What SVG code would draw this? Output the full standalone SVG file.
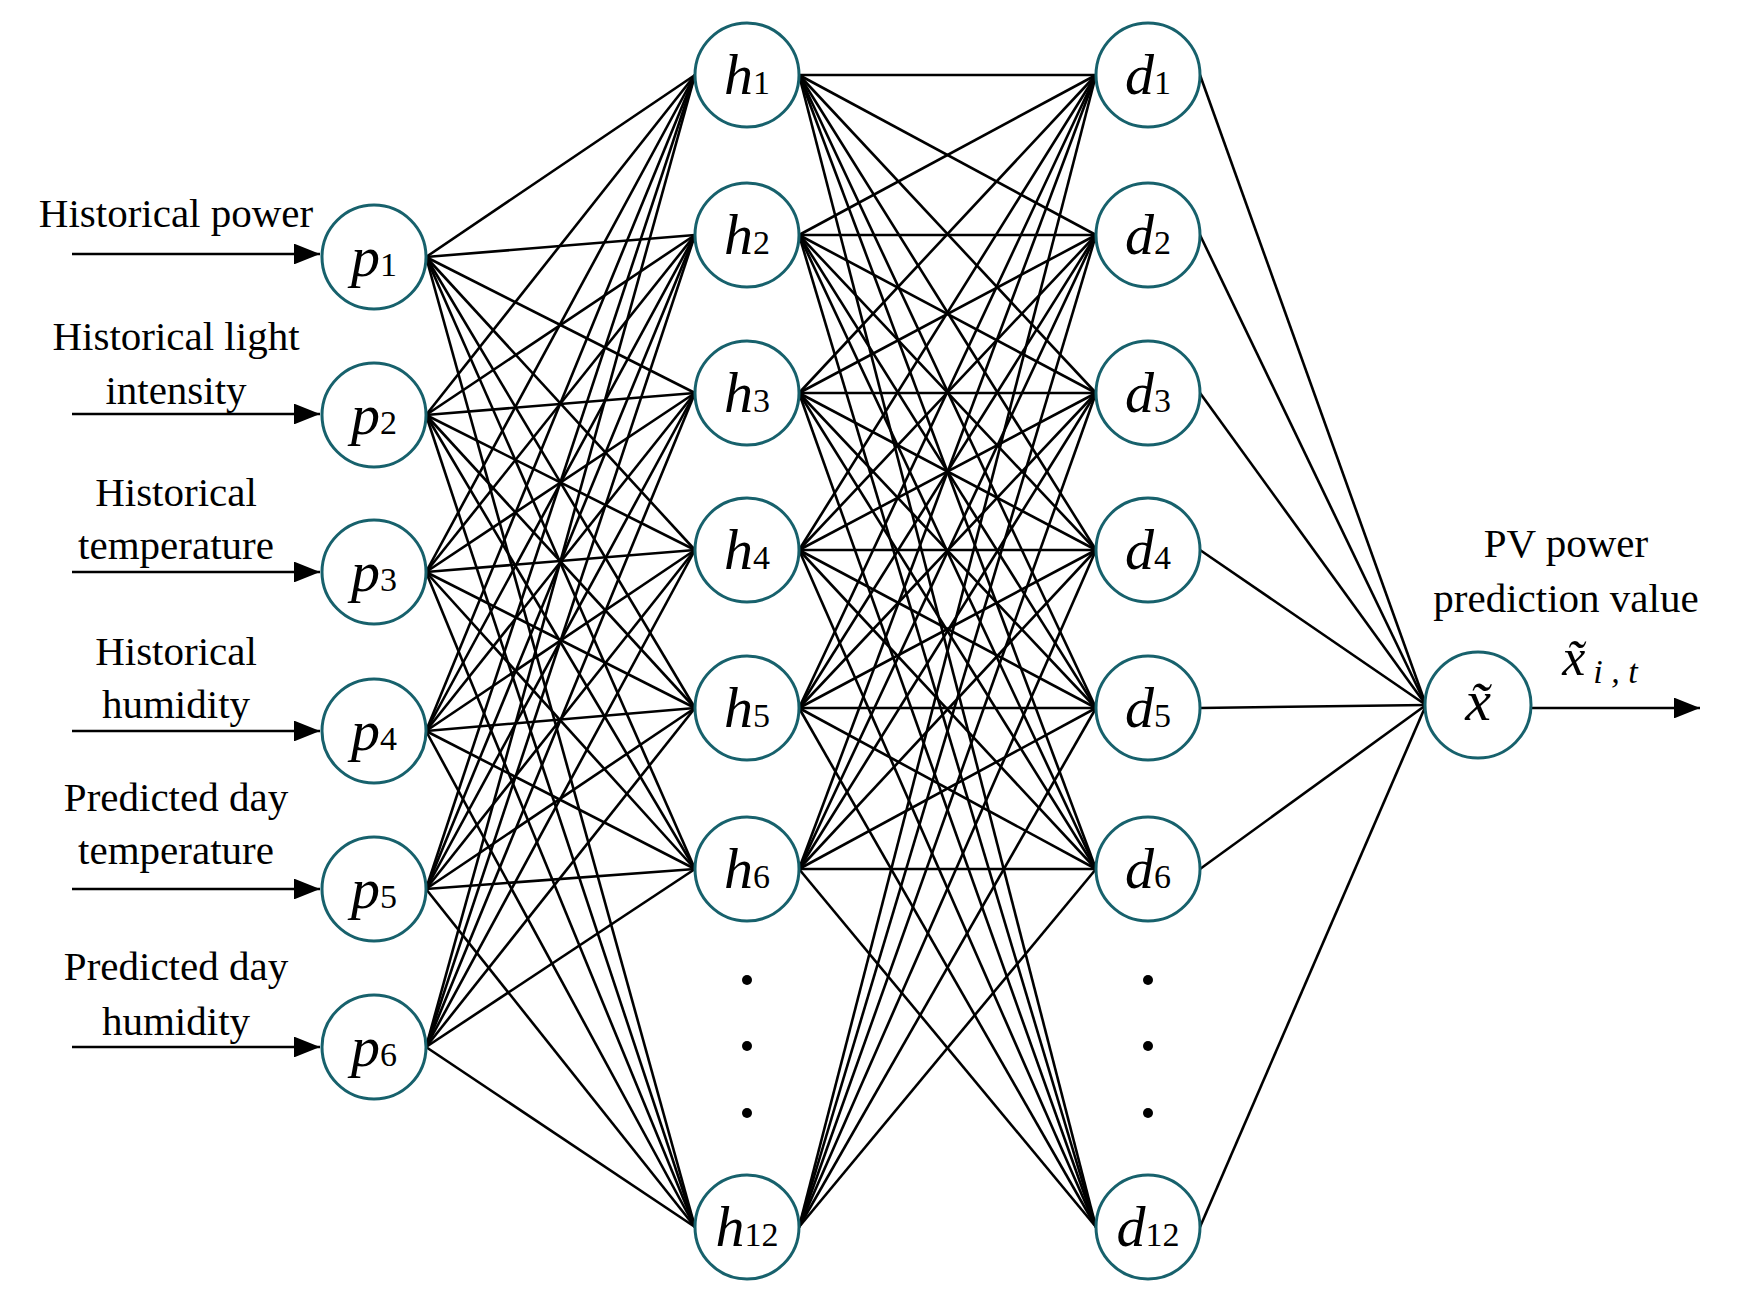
<svg xmlns="http://www.w3.org/2000/svg" width="1738" height="1299" viewBox="0 0 1738 1299">
<style>
.n{fill:#fff;stroke:#17616c;stroke-width:3}
.l{font-family:"Liberation Serif",serif;font-style:italic;font-size:58px;text-anchor:middle}
.s{font-style:normal;font-size:34px}
.t{font-family:"Liberation Serif",serif;font-size:41px;text-anchor:middle}
#c line{stroke:#000;stroke-width:2.6}
.a{stroke:#000;stroke-width:3.5}
</style>
<defs><marker id="ar" markerWidth="10" markerHeight="8" refX="10" refY="4" orient="auto" markerUnits="strokeWidth"><path d="M0,0L10,4L0,8z"/></marker></defs>
<rect width="1738" height="1299" fill="#fff"/>
<g id="c">
<line x1="426" y1="257" x2="695" y2="75"/><line x1="426" y1="257" x2="695" y2="235"/><line x1="426" y1="257" x2="695" y2="393"/><line x1="426" y1="257" x2="695" y2="550"/><line x1="426" y1="257" x2="695" y2="708"/><line x1="426" y1="257" x2="695" y2="869"/><line x1="426" y1="257" x2="695" y2="1227"/>
<line x1="426" y1="415" x2="695" y2="75"/><line x1="426" y1="415" x2="695" y2="235"/><line x1="426" y1="415" x2="695" y2="393"/><line x1="426" y1="415" x2="695" y2="550"/><line x1="426" y1="415" x2="695" y2="708"/><line x1="426" y1="415" x2="695" y2="869"/><line x1="426" y1="415" x2="695" y2="1227"/>
<line x1="426" y1="572" x2="695" y2="75"/><line x1="426" y1="572" x2="695" y2="235"/><line x1="426" y1="572" x2="695" y2="393"/><line x1="426" y1="572" x2="695" y2="550"/><line x1="426" y1="572" x2="695" y2="708"/><line x1="426" y1="572" x2="695" y2="869"/><line x1="426" y1="572" x2="695" y2="1227"/>
<line x1="426" y1="731" x2="695" y2="75"/><line x1="426" y1="731" x2="695" y2="235"/><line x1="426" y1="731" x2="695" y2="393"/><line x1="426" y1="731" x2="695" y2="550"/><line x1="426" y1="731" x2="695" y2="708"/><line x1="426" y1="731" x2="695" y2="869"/><line x1="426" y1="731" x2="695" y2="1227"/>
<line x1="426" y1="889" x2="695" y2="75"/><line x1="426" y1="889" x2="695" y2="235"/><line x1="426" y1="889" x2="695" y2="393"/><line x1="426" y1="889" x2="695" y2="550"/><line x1="426" y1="889" x2="695" y2="708"/><line x1="426" y1="889" x2="695" y2="869"/><line x1="426" y1="889" x2="695" y2="1227"/>
<line x1="426" y1="1047" x2="695" y2="75"/><line x1="426" y1="1047" x2="695" y2="235"/><line x1="426" y1="1047" x2="695" y2="393"/><line x1="426" y1="1047" x2="695" y2="550"/><line x1="426" y1="1047" x2="695" y2="708"/><line x1="426" y1="1047" x2="695" y2="869"/><line x1="426" y1="1047" x2="695" y2="1227"/>
<line x1="799" y1="75" x2="1096" y2="75"/><line x1="799" y1="75" x2="1096" y2="235"/><line x1="799" y1="75" x2="1096" y2="393"/><line x1="799" y1="75" x2="1096" y2="550"/><line x1="799" y1="75" x2="1096" y2="708"/><line x1="799" y1="75" x2="1096" y2="869"/><line x1="799" y1="75" x2="1096" y2="1227"/>
<line x1="799" y1="235" x2="1096" y2="75"/><line x1="799" y1="235" x2="1096" y2="235"/><line x1="799" y1="235" x2="1096" y2="393"/><line x1="799" y1="235" x2="1096" y2="550"/><line x1="799" y1="235" x2="1096" y2="708"/><line x1="799" y1="235" x2="1096" y2="869"/><line x1="799" y1="235" x2="1096" y2="1227"/>
<line x1="799" y1="393" x2="1096" y2="75"/><line x1="799" y1="393" x2="1096" y2="235"/><line x1="799" y1="393" x2="1096" y2="393"/><line x1="799" y1="393" x2="1096" y2="550"/><line x1="799" y1="393" x2="1096" y2="708"/><line x1="799" y1="393" x2="1096" y2="869"/><line x1="799" y1="393" x2="1096" y2="1227"/>
<line x1="799" y1="550" x2="1096" y2="75"/><line x1="799" y1="550" x2="1096" y2="235"/><line x1="799" y1="550" x2="1096" y2="393"/><line x1="799" y1="550" x2="1096" y2="550"/><line x1="799" y1="550" x2="1096" y2="708"/><line x1="799" y1="550" x2="1096" y2="869"/><line x1="799" y1="550" x2="1096" y2="1227"/>
<line x1="799" y1="708" x2="1096" y2="75"/><line x1="799" y1="708" x2="1096" y2="235"/><line x1="799" y1="708" x2="1096" y2="393"/><line x1="799" y1="708" x2="1096" y2="550"/><line x1="799" y1="708" x2="1096" y2="708"/><line x1="799" y1="708" x2="1096" y2="869"/><line x1="799" y1="708" x2="1096" y2="1227"/>
<line x1="799" y1="869" x2="1096" y2="75"/><line x1="799" y1="869" x2="1096" y2="235"/><line x1="799" y1="869" x2="1096" y2="393"/><line x1="799" y1="869" x2="1096" y2="550"/><line x1="799" y1="869" x2="1096" y2="708"/><line x1="799" y1="869" x2="1096" y2="869"/><line x1="799" y1="869" x2="1096" y2="1227"/>
<line x1="799" y1="1227" x2="1096" y2="75"/><line x1="799" y1="1227" x2="1096" y2="235"/><line x1="799" y1="1227" x2="1096" y2="393"/><line x1="799" y1="1227" x2="1096" y2="550"/><line x1="799" y1="1227" x2="1096" y2="708"/><line x1="799" y1="1227" x2="1096" y2="869"/>
<line x1="1200" y1="75" x2="1426" y2="705"/><line x1="1200" y1="235" x2="1426" y2="705"/><line x1="1200" y1="393" x2="1426" y2="705"/><line x1="1200" y1="550" x2="1426" y2="705"/><line x1="1200" y1="708" x2="1426" y2="705"/><line x1="1200" y1="869" x2="1426" y2="705"/><line x1="1200" y1="1227" x2="1426" y2="705"/>
<line class="a" x1="72" y1="254" x2="320" y2="254" marker-end="url(#ar)"/>
<line class="a" x1="72" y1="414" x2="320" y2="414" marker-end="url(#ar)"/>
<line class="a" x1="72" y1="572" x2="320" y2="572" marker-end="url(#ar)"/>
<line class="a" x1="72" y1="731" x2="320" y2="731" marker-end="url(#ar)"/>
<line class="a" x1="72" y1="889" x2="320" y2="889" marker-end="url(#ar)"/>
<line class="a" x1="72" y1="1047" x2="320" y2="1047" marker-end="url(#ar)"/>
<line class="a" x1="1532" y1="708" x2="1700" y2="708" marker-end="url(#ar)"/>
</g>
<g id="p1"><circle class="n" cx="374" cy="257" r="52"/><text class="l" x="374" y="276">p<tspan class="s">1</tspan></text></g>
<g id="p2"><circle class="n" cx="374" cy="415" r="52"/><text class="l" x="374" y="434">p<tspan class="s">2</tspan></text></g>
<g id="p3"><circle class="n" cx="374" cy="572" r="52"/><text class="l" x="374" y="591">p<tspan class="s">3</tspan></text></g>
<g id="p4"><circle class="n" cx="374" cy="731" r="52"/><text class="l" x="374" y="750">p<tspan class="s">4</tspan></text></g>
<g id="p5"><circle class="n" cx="374" cy="889" r="52"/><text class="l" x="374" y="908">p<tspan class="s">5</tspan></text></g>
<g id="p6"><circle class="n" cx="374" cy="1047" r="52"/><text class="l" x="374" y="1066">p<tspan class="s">6</tspan></text></g>
<g id="h1"><circle class="n" cx="747" cy="75" r="52"/><text class="l" x="747" y="94">h<tspan class="s">1</tspan></text></g>
<g id="h2"><circle class="n" cx="747" cy="235" r="52"/><text class="l" x="747" y="254">h<tspan class="s">2</tspan></text></g>
<g id="h3"><circle class="n" cx="747" cy="393" r="52"/><text class="l" x="747" y="412">h<tspan class="s">3</tspan></text></g>
<g id="h4"><circle class="n" cx="747" cy="550" r="52"/><text class="l" x="747" y="569">h<tspan class="s">4</tspan></text></g>
<g id="h5"><circle class="n" cx="747" cy="708" r="52"/><text class="l" x="747" y="727">h<tspan class="s">5</tspan></text></g>
<g id="h6"><circle class="n" cx="747" cy="869" r="52"/><text class="l" x="747" y="888">h<tspan class="s">6</tspan></text></g>
<g id="h12"><circle class="n" cx="747" cy="1227" r="52"/><text class="l" x="747" y="1246">h<tspan class="s">12</tspan></text></g>
<g id="d1"><circle class="n" cx="1148" cy="75" r="52"/><text class="l" x="1148" y="94">d<tspan class="s">1</tspan></text></g>
<g id="d2"><circle class="n" cx="1148" cy="235" r="52"/><text class="l" x="1148" y="254">d<tspan class="s">2</tspan></text></g>
<g id="d3"><circle class="n" cx="1148" cy="393" r="52"/><text class="l" x="1148" y="412">d<tspan class="s">3</tspan></text></g>
<g id="d4"><circle class="n" cx="1148" cy="550" r="52"/><text class="l" x="1148" y="569">d<tspan class="s">4</tspan></text></g>
<g id="d5"><circle class="n" cx="1148" cy="708" r="52"/><text class="l" x="1148" y="727">d<tspan class="s">5</tspan></text></g>
<g id="d6"><circle class="n" cx="1148" cy="869" r="52"/><text class="l" x="1148" y="888">d<tspan class="s">6</tspan></text></g>
<g id="d12"><circle class="n" cx="1148" cy="1227" r="52"/><text class="l" x="1148" y="1246">d<tspan class="s">12</tspan></text></g>
<g id="out"><circle class="n" cx="1478" cy="705" r="53"/><text class="l" x="1478" y="720">x̃</text></g>
<g id="dots">
<circle cx="747" cy="980" r="5"/><circle cx="747" cy="1046" r="5"/><circle cx="747" cy="1113" r="5"/>
<circle cx="1148" cy="980" r="5"/><circle cx="1148" cy="1046" r="5"/><circle cx="1148" cy="1113" r="5"/>
</g>
<g id="labels">
<text class="t" x="176" y="227">Historical power</text>
<text class="t" x="176" y="350">Historical light</text><text class="t" x="176" y="404">intensity</text>
<text class="t" x="176" y="506">Historical</text><text class="t" x="176" y="559">temperature</text>
<text class="t" x="176" y="665">Historical</text><text class="t" x="176" y="718">humidity</text>
<text class="t" x="176" y="811">Predicted day</text><text class="t" x="176" y="864">temperature</text>
<text class="t" x="176" y="980">Predicted day</text><text class="t" x="176" y="1035">humidity</text>
<text class="t" x="1566" y="557">PV power</text><text class="t" x="1566" y="612">prediction value</text>
<text class="l" x="1600" y="675" style="font-size:52px">x̃<tspan class="s" style="font-style:italic" dx="8" dy="8">i , t</tspan></text>
</g>
</svg>
